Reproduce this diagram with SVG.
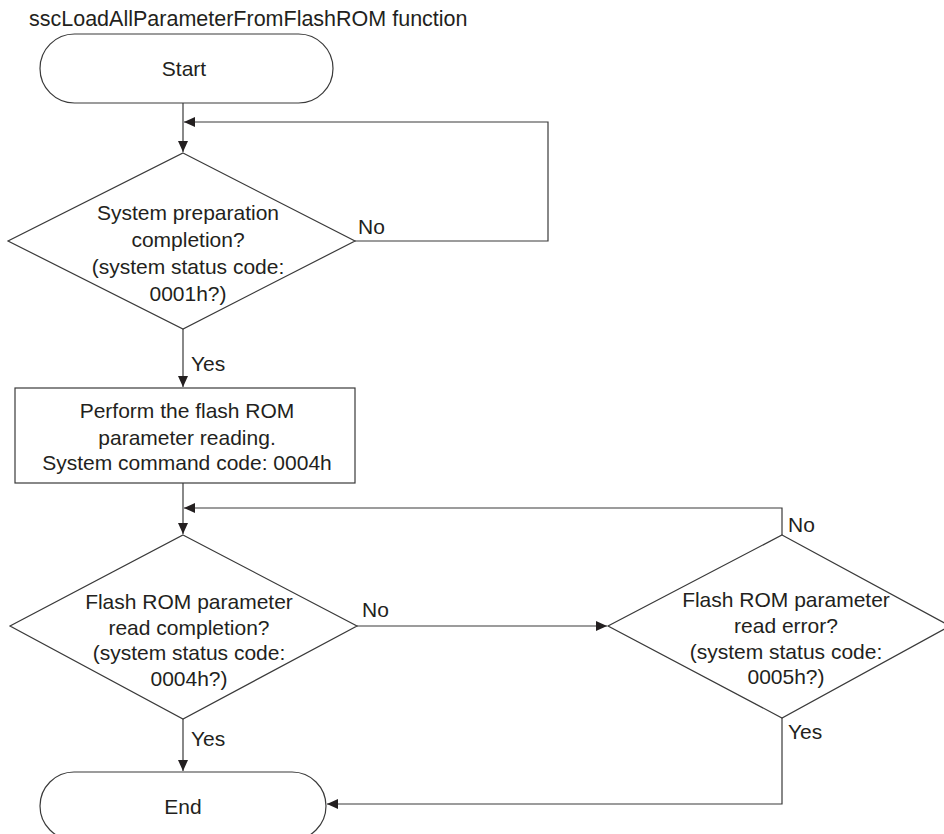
<svg xmlns="http://www.w3.org/2000/svg" width="944" height="834" viewBox="0 0 944 834">
<style>
  .shape { fill: #ffffff; stroke: #3a3a3a; stroke-width: 1.2; }
  .conn { fill: none; stroke: #3a3a3a; stroke-width: 1.2; }
  text { font-family: "Liberation Sans", Arial, sans-serif; font-size: 21px; fill: #231f20; }
  .c { text-anchor: middle; }
  .title { font-size: 21.5px; }
</style>
<defs>
  <marker id="arr" markerUnits="userSpaceOnUse" markerWidth="12" markerHeight="10" refX="11" refY="5" orient="auto">
    <path d="M0,0 L11,5 L0,10 Z" fill="#231f20"/>
  </marker>
</defs>
<rect width="944" height="834" fill="#ffffff"/>
<text class="title" x="29" y="26">sscLoadAllParameterFromFlashROM function</text>

<g id="connectors">
  <path class="conn" d="M183,103 V152" marker-end="url(#arr)"/>
  <path class="conn" d="M355,241 H548 V122 H184" marker-end="url(#arr)"/>
  <path class="conn" d="M183,329 V387" marker-end="url(#arr)"/>
  <path class="conn" d="M183,483 V534" marker-end="url(#arr)"/>
  <path class="conn" d="M782,535 V508 H184" marker-end="url(#arr)"/>
  <path class="conn" d="M357,626 H607" marker-end="url(#arr)"/>
  <path class="conn" d="M183,719 V771" marker-end="url(#arr)"/>
  <path class="conn" d="M782,718 V804 H327" marker-end="url(#arr)"/>
  <text x="358" y="234">No</text>
  <text x="191" y="371">Yes</text>
  <text x="362" y="617">No</text>
  <text x="191" y="746">Yes</text>
  <text x="788" y="532">No</text>
  <text x="788" y="739">Yes</text>
</g>

<g id="start">
  <rect class="shape" x="40" y="34" width="293" height="69" rx="34.5"/>
  <text class="c" x="184" y="76">Start</text>
</g>

<g id="check-system-ready">
  <polygon class="shape" points="183,153 355,241 183,329 8,241"/>
  <text class="c" x="188" y="220">System preparation</text>
  <text class="c" x="188" y="247">completion?</text>
  <text class="c" x="188" y="274">(system status code:</text>
  <text class="c" x="188" y="301">0001h?)</text>
</g>

<g id="read-flash">
  <rect class="shape" x="15" y="388" width="340" height="95"/>
  <text class="c" x="187" y="418">Perform the flash ROM</text>
  <text class="c" x="187" y="445">parameter reading.</text>
  <text class="c" x="187" y="470">System command code: 0004h</text>
</g>

<g id="check-read-complete">
  <polygon class="shape" points="183,535 357,626 183,719 10,626"/>
  <text class="c" x="189" y="609">Flash ROM parameter</text>
  <text class="c" x="189" y="635">read completion?</text>
  <text class="c" x="189" y="660">(system status code:</text>
  <text class="c" x="189" y="686">0004h?)</text>
</g>

<g id="check-read-error">
  <polygon class="shape" points="782,535 950,626 782,718 608,626"/>
  <text class="c" x="786" y="607">Flash ROM parameter</text>
  <text class="c" x="786" y="633">read error?</text>
  <text class="c" x="786" y="659">(system status code:</text>
  <text class="c" x="786" y="684">0005h?)</text>
</g>

<g id="end">
  <rect class="shape" x="40" y="772" width="286" height="68" rx="34"/>
  <text class="c" x="183" y="814">End</text>
</g>
</svg>
